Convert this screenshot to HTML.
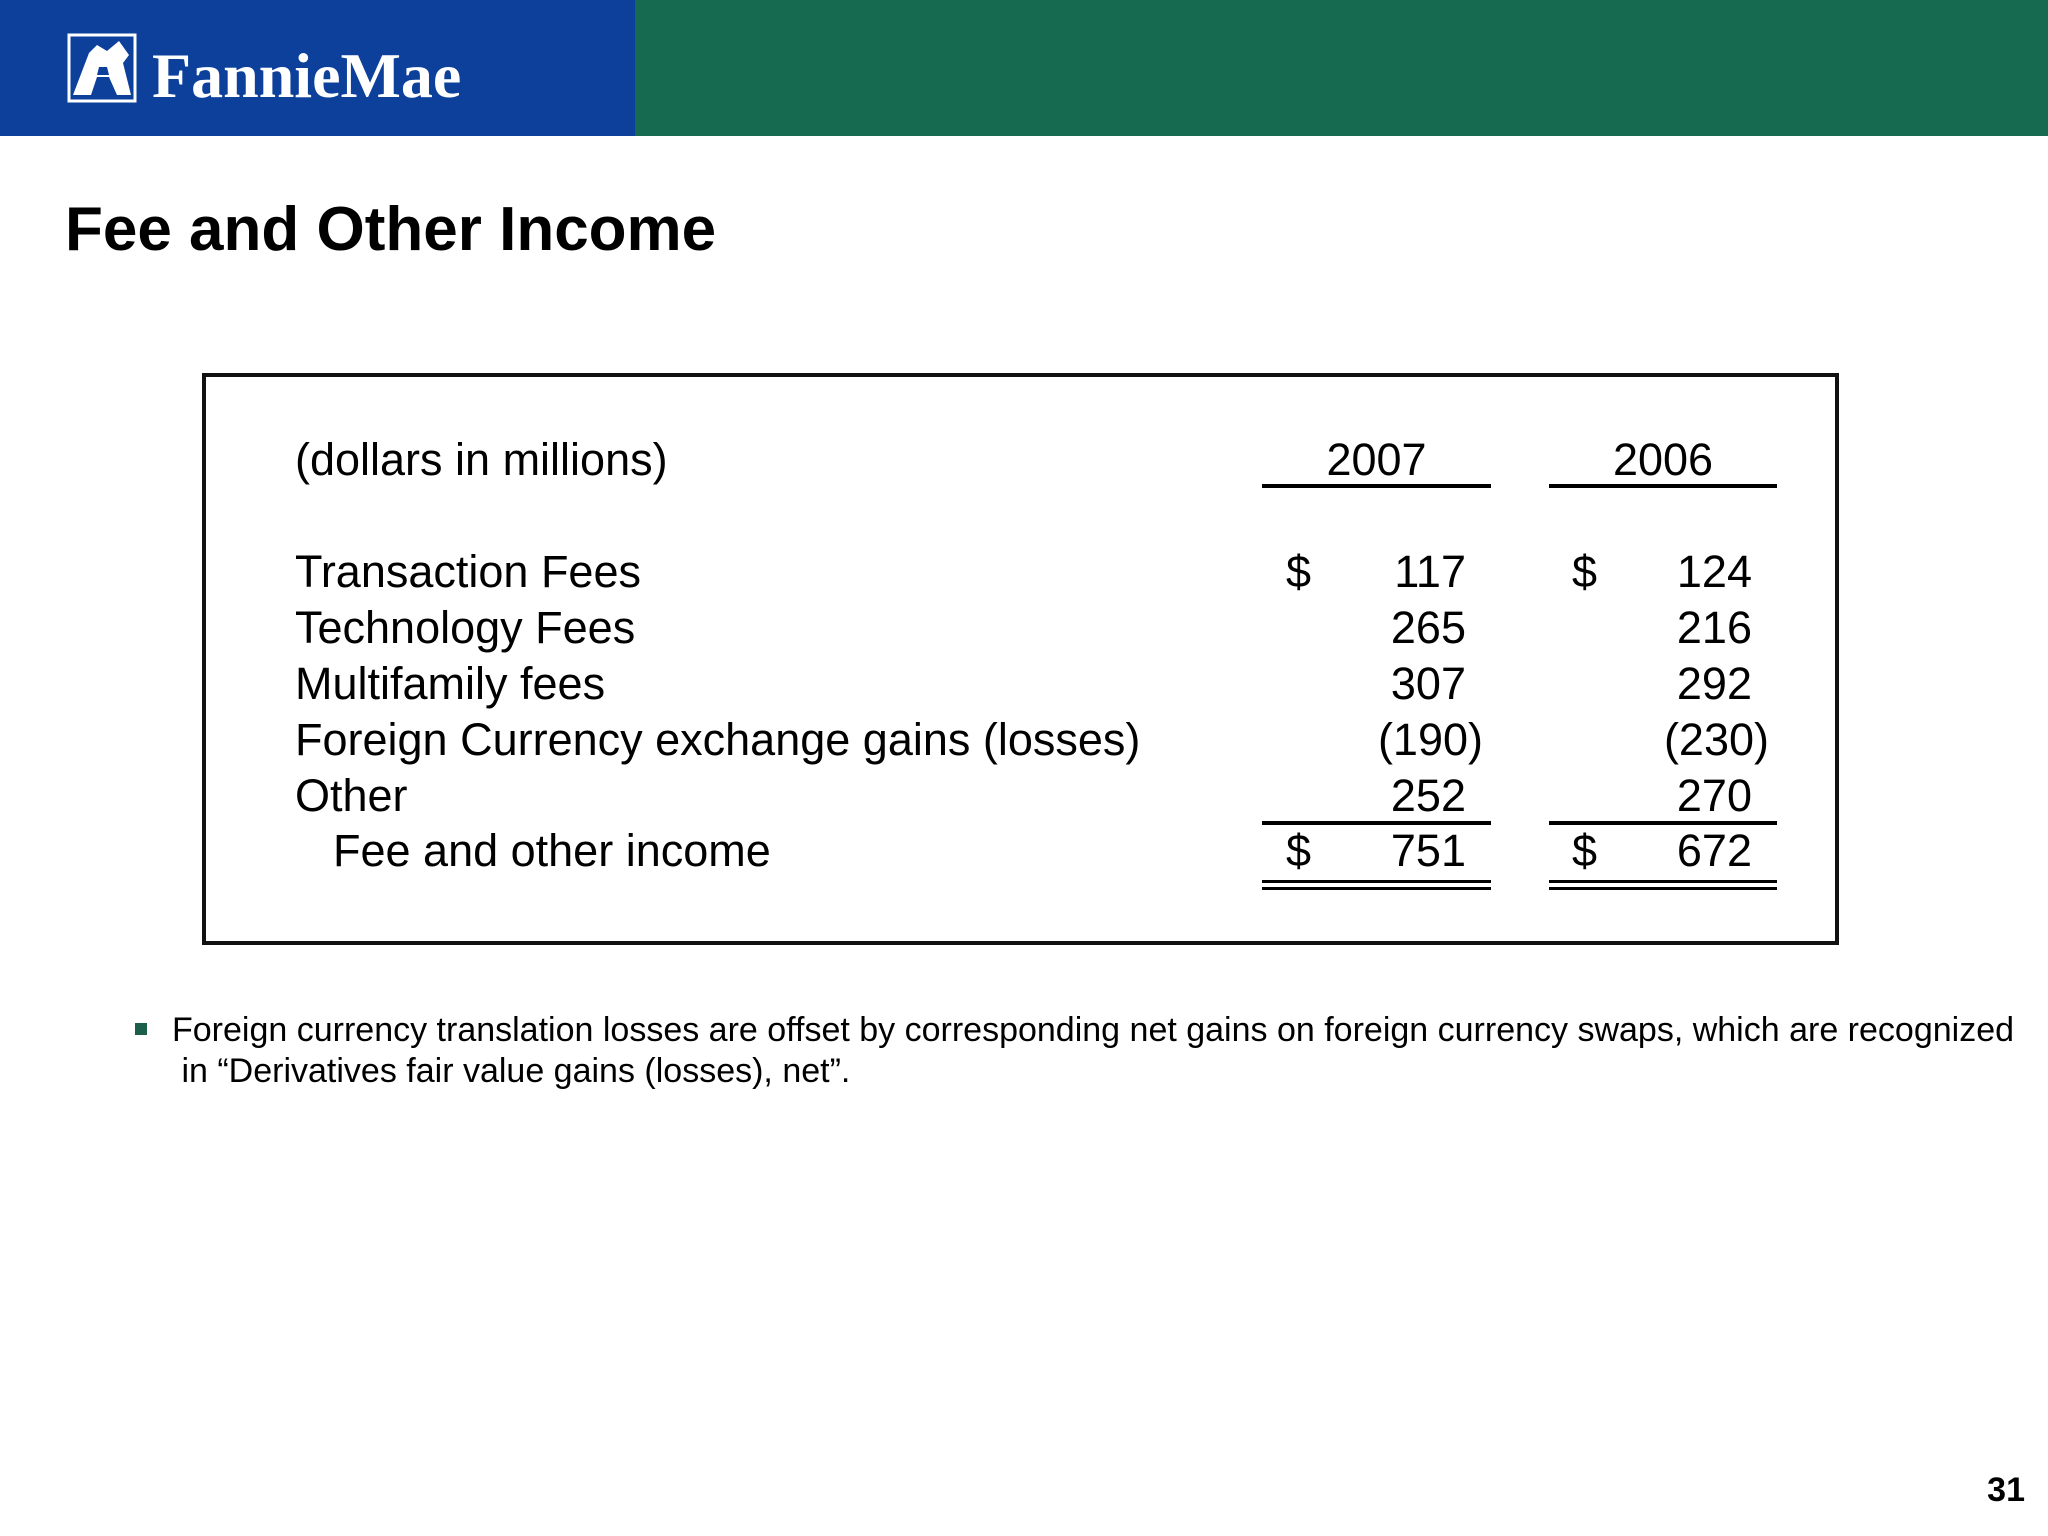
<!DOCTYPE html>
<html><head><meta charset="utf-8"><style>
body{margin:0;width:2048px;height:1536px;background:#fff;position:relative;overflow:hidden;font-family:"Liberation Sans",sans-serif;color:#000}
div,span{position:absolute}
.t{font-size:45px;white-space:nowrap;line-height:1}
.ln{background:#000;height:4px}
</style></head><body>
<div style="left:0;top:0;width:635px;height:136px;background:#0d409b"></div>
<div style="left:635px;top:0;width:1413px;height:136px;background:#166a4f"></div>
<svg style="position:absolute;left:67px;top:33px" width="70" height="70" viewBox="0 0 70 70">
<rect x="2" y="2" width="66" height="66" fill="none" stroke="#fff" stroke-width="3"/>
<path d="M6 62 L22 20 L30 12 L40 18 L52 8 L62 22 L56 30 L64 62 L50 62 L42 44 L30 44 L24 62 Z" fill="#fff"/>
<path d="M32 34 L40 34 L42 42 L30 42 Z" fill="#0d409b"/>
</svg>
<div style="left:152px;top:44px;font-family:'Liberation Serif',serif;font-weight:bold;font-size:64px;color:#fff;line-height:1">FannieMae</div>
<div style="left:65px;top:199px;font-weight:bold;font-size:62px;line-height:1">Fee and Other Income</div>
<div style="left:202px;top:373px;width:1629px;height:564px;border:4px solid #111"></div>
<div class="t" style="left:295px;top:437px">(dollars in millions)</div>
<div class="t" style="left:1262px;width:229px;text-align:center;top:437px">2007</div>
<div class="t" style="left:1549px;width:228px;text-align:center;top:437px">2006</div>
<div class="ln" style="left:1262px;width:229px;top:484px"></div>
<div class="ln" style="left:1549px;width:228px;top:484px"></div>
<div id="rows"></div>
<div class="ln" style="left:1262px;width:229px;top:821px"></div>
<div class="ln" style="left:1549px;width:228px;top:821px"></div>
<div class="ln" style="left:1262px;width:229px;top:880px;height:3px"></div>
<div class="ln" style="left:1262px;width:229px;top:887px;height:3px"></div>
<div class="ln" style="left:1549px;width:228px;top:880px;height:3px"></div>
<div class="ln" style="left:1549px;width:228px;top:887px;height:3px"></div>
<div style="left:135px;top:1023px;width:12px;height:12px;background:#1b5e4a"></div>
<div style="left:172px;top:1010px;font-size:34px;line-height:41px;width:1870px;white-space:nowrap">Foreign currency translation losses are offset by corresponding net gains on foreign currency swaps, which are recognized<br>&nbsp;in “Derivatives fair value gains (losses), net”.</div>
<div style="right:23px;top:1473px;font-size:34px;font-weight:bold;line-height:1">31</div>
<script>
const labels=["Transaction Fees","Technology Fees","Multifamily fees","Foreign Currency exchange gains (losses)","Other","Fee and other income"];
const v2007=[117,265,307,-190,252,751];
const v2006=[124,216,292,-230,270,672];
const dollarRows=[0,5];
const tops=[549,605,661,717,773,828];
const root=document.getElementById('rows');
function fmt(v){return v<0?'('+(-v)+')':String(v);}
function add(txt,style,name){const d=document.createElement('div');d.className='t';d.textContent=txt;d.style.cssText=style;


root.appendChild(d);}
labels.forEach((l,i)=>{
 const top=tops[i];
 add(l,'left:'+(i==5?333:295)+'px;top:'+top+'px','row-label-'+i);
 [[v2007,1286,1466],[v2006,1572,1752]].forEach((c,j)=>{
  const v=c[0][i];const yr=j?'2006':'2007';
  if(dollarRows.includes(i))add('$','left:'+c[1]+'px;top:'+top+'px','dollar-'+yr+'-'+i);
  const right=v<0?c[2]+17:c[2];
  add(fmt(v),'left:'+(right-250)+'px;width:250px;text-align:right;top:'+top+'px','value-'+yr+'-'+i);
 });
});
</script>
</body></html>
